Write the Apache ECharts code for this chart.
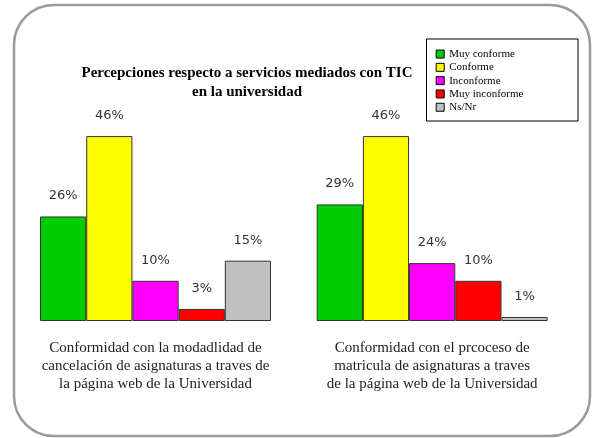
<!DOCTYPE html>
<html>
<head>
<meta charset="utf-8">
<script src="https://cdn.jsdelivr.net/npm/echarts@6/dist/echarts.min.js"></script>
<style>
html,body{margin:0;padding:0;background:#fff;}
#chart{width:592px;height:438px;}
</style>
</head>
<body>
<div id="chart"></div>
<script>
// ---- data ----
const categories = [
  'Conformidad con la modadlidad de\ncancelación de asignaturas a traves de\nla página web de la Universidad',
  'Conformidad con el prcoceso de\nmatricula de asignaturas a traves\nde la página web de la Universidad'
];
const seriesNames = ['Muy conforme', 'Conforme', 'Inconforme', 'Muy inconforme', 'Ns/Nr'];
const muyConforme = [26, 29];
const conforme = [46, 46];
const inconforme = [10, 14.4];
const muyInconforme = [3, 10];
const nsNr = [15, 1];
const labelsMuyConforme = ['26%', '29%'];
const labelsConforme = ['46%', '46%'];
const labelsInconforme = ['10%', '24%'];
const labelsMuyInconforme = ['3%', '10%'];
const labelsNsNr = ['15%', '1%'];
const titleText = 'Percepciones respecto a servicios mediados con TIC\nen la universidad';

const colors = ['#00cc00', '#ffff00', '#ff00ff', '#ff0000', '#c0c0c0'];
const values = [muyConforme, conforme, inconforme, muyInconforme, nsNr];
const labels = [labelsMuyConforme, labelsConforme, labelsInconforme, labelsMuyInconforme, labelsNsNr];

const chart = echarts.init(document.getElementById('chart'), null, {renderer: 'canvas'});
const series = seriesNames.map((name, i) => ({
  name: name,
  type: 'bar',
  barWidth: 46.2,
  barGap: '0%',
  data: values[i],
  itemStyle: {color: colors[i], borderColor: '#333', borderWidth: 1},
  label: {
    show: true,
    position: 'top',
    distance: 14,
    fontFamily: 'DejaVu Sans',
    fontSize: 13,
    color: '#333',
    formatter: p => labels[i][p.dataIndex]
  }
}));

chart.setOption({
  animation: false,
  backgroundColor: '#fff',
  color: colors,
  title: {
    text: titleText,
    left: 247,
    top: 63.5,
    padding: 0,
    textAlign: 'center',
    textStyle: {fontFamily: 'Liberation Serif', fontWeight: 'bold', fontSize: 15, lineHeight: 19, color: '#000'}
  },
  legend: {
    orient: 'vertical',
    left: 435.7,
    top: 47.4,
    padding: 0,
    itemGap: 0,
    itemWidth: 8,
    itemHeight: 8,
    itemTextGap: 10.3,
    icon: 'rect',
    itemStyle: {borderColor: '#000', borderWidth: 1},
    textStyle: {fontFamily: 'Liberation Serif', fontSize: 11, lineHeight: 13.3, color: '#000'},
    data: seriesNames
  },
  grid: {left: 17.2, right: 21.5, top: 120, bottom: 117},
  xAxis: {
    type: 'category',
    data: categories,
    axisLine: {show: false},
    axisTick: {show: false},
    axisLabel: {
      margin: 18.3,
      interval: 0,
      fontFamily: 'Liberation Serif',
      fontSize: 15,
      lineHeight: 18,
      color: '#222'
    }
  },
  yAxis: {type: 'value', min: 0, max: 50, show: false, splitLine: {show: false}},
  series: series,
  graphic: [
    {type: 'rect', z: -10, silent: true,
     shape: {x: 14, y: 5, width: 576, height: 431, r: 40},
     style: {fill: 'none', stroke: '#9a9a9a', lineWidth: 2.5}},
    {type: 'rect', z: -5, silent: true,
     shape: {x: 426.5, y: 39, width: 151.5, height: 82},
     style: {fill: '#fff', stroke: '#000', lineWidth: 1}}
  ]
});
</script>
</body>
</html>
